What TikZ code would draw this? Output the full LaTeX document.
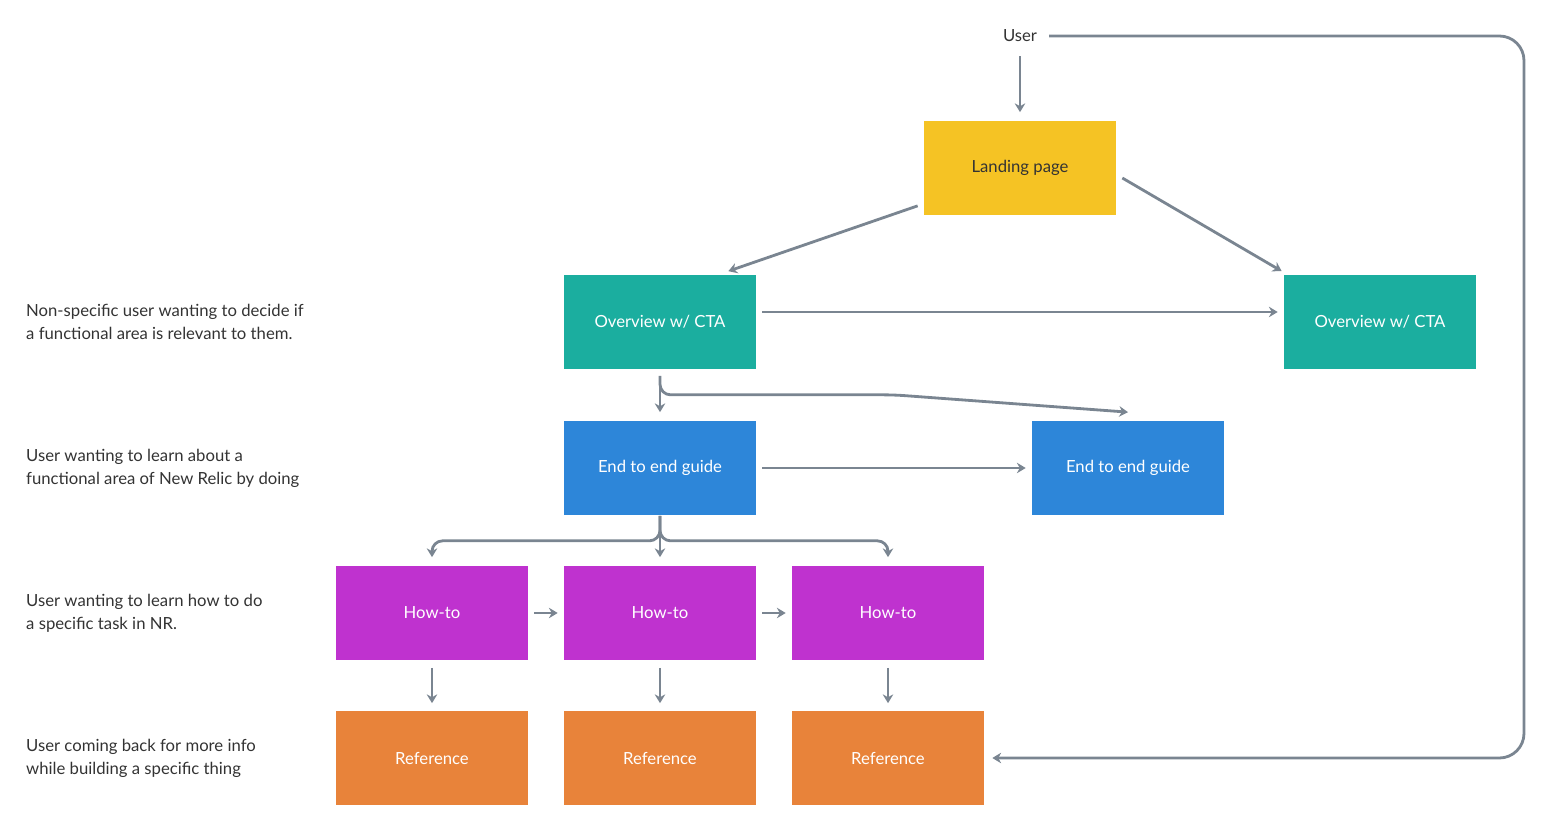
\documentclass[tikz,border=0pt]{standalone}
\usepackage{fontspec}
\setmainfont{Lato}
\usetikzlibrary{arrows.meta,calc}
\definecolor{linegray}{HTML}{7A8591}
\definecolor{landcol}{HTML}{F5C324}
\definecolor{ovcol}{HTML}{1BAE9F}
\definecolor{guidecol}{HTML}{2D86D9}
\definecolor{howcol}{HTML}{BF32CF}
\definecolor{refcol}{HTML}{E8833A}
\tikzset{
  box/.style={minimum width=3.84cm, minimum height=1.9cm, inner sep=0pt,
    font=\fontsize{9.5}{11}\selectfont, text=white},
  note/.style={anchor=west, align=left, font=\fontsize{9.5}{13}\selectfont, text=black!80},
  flow/.style={draw=linegray, line width=1.6pt, rounded corners=6pt,
    -{Stealth[length=5pt,width=6pt]}},
}
\begin{document}
\begin{tikzpicture}[x=0.02cm,y=-0.02cm]
        \useasboundingbox (0,0) rectangle (1552,830);

        \node[box, fill=landcol, text=black!80] (land) at (1020,168) {Landing page};
        \node[box, fill=ovcol] (ov1) at (660,322) {Overview w/ CTA};
        \node[box, fill=ovcol] (ov2) at (1380,322) {Overview w/ CTA};
        \node[box, fill=guidecol] (guide1) at (660,468) {End to end guide};
        \node[box, fill=guidecol] (guide2) at (1128,468) {End to end guide};
        \foreach \x/\n in {432/1,660/2,888/3} {
            \node[box, fill=howcol] (how\n) at (\x,613) {How-to};
            \node[box, fill=refcol] (ref\n) at (\x,758) {Reference};
        }
        \node[font=\fontsize{9.5}{11}\selectfont, text=black!80] (user) at (1020,36) {User};

        \node[note] (n1) at (20,322) {Non-specific user wanting to decide if\\a functional area is relevant to them.};
        \node[note] (n2) at (20,468) {User wanting to learn about a\\functional area of New Relic by doing};
        \node[note] (n3) at (20,613) {User wanting to learn how to do\\a specific task in NR.};
        \node[note] (n4) at (20,758) {User coming back for more info\\while building a specific thing};

        % connectors
        \draw[flow] ($(user.south)+(0,8)$) -- ($(land.north)+(0,-8)$);
        \draw[flow] ($(land.south west)+(-6,-10)$) -- ($(ov1.north east)+(-28,-3)$);
        \draw[flow] ($(land.east)+(6,10)$) -- ($(ov2.north west)+(-2,-3)$);
        \draw[flow] ($(ov1.east)+(6,-10)$) -- ($(ov2.west)+(-6,-10)$);
        \draw[flow] ($(ov1.south)+(0,6)$) -- ($(guide1.north)+(0,-8)$);
        \draw[flow] ($(ov1.south)+(0,6)$) |- ($(ov1.south)+(234,25)$) -- ($(guide2.north)+(0,-8)$);
        \draw[flow] ($(guide1.east)+(6,0)$) -- ($(guide2.west)+(-6,0)$);
        \draw[flow] (guide1.south) -- ($(how2.north)+(0,-8)$);
        \draw[flow] (guide1.south) |- ($(guide1.south)+(-114,25)$) -| ($(how1.north)+(0,-8)$);
        \draw[flow] (guide1.south) |- ($(guide1.south)+(114,25)$) -| ($(how3.north)+(0,-8)$);
        \draw[flow] ($(how1.east)+(6,0)$) -- ($(how2.west)+(-6,0)$);
        \draw[flow] ($(how2.east)+(6,0)$) -- ($(how3.west)+(-6,0)$);
        \foreach \n in {1,2,3}
            \draw[flow] ($(how\n.south)+(0,7)$) -- ($(ref\n.north)+(0,-7)$);
        \draw[flow, rounded corners=14pt] ($(user.east)+(6,0)$) -- (1524,36) -- (1524,758) -- ($(ref3.east)+(8,0)$);
    \end{tikzpicture}
\end{document}
